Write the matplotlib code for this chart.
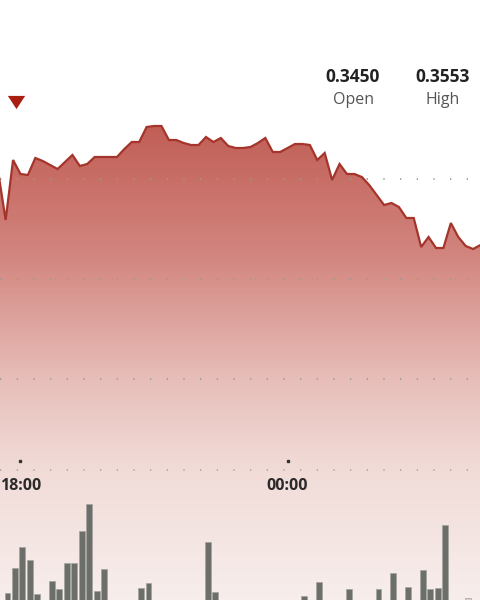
import matplotlib
matplotlib.use("Agg")
import matplotlib.pyplot as plt
import matplotlib.dates as mdates
import numpy as np
import pandas as pd
from matplotlib.colors import LinearSegmentedColormap
from matplotlib.path import Path

plt.rcParams["font.family"] = ["Open Sans", "DejaVu Sans"]

# price every 10 minutes, starting 17:30
times = pd.date_range("2024-03-04 17:30", periods=66, freq="10min")
prices = [0.3507, 0.3459, 0.3519, 0.3505, 0.3504, 0.3521, 0.3518, 0.3514, 0.3510, 0.3517,
          0.3524, 0.3513, 0.3515, 0.3522, 0.3522, 0.3522, 0.3522, 0.3530, 0.3537, 0.3537,
          0.3552, 0.3553, 0.3553, 0.3539, 0.3539, 0.3536, 0.3534, 0.3534, 0.3542, 0.3537,
          0.3541, 0.3533, 0.3531, 0.3531, 0.3532, 0.3536, 0.3541, 0.3527, 0.3527, 0.3531,
          0.3535, 0.3535, 0.3534, 0.3519, 0.3526, 0.3499, 0.3515, 0.3505, 0.3505, 0.3502,
          0.3494, 0.3484, 0.3474, 0.3476, 0.3472, 0.3461, 0.3461, 0.3432, 0.3442, 0.3431,
          0.3431, 0.3456, 0.3442, 0.3433, 0.3430, 0.3434]

# volume bars: slot in `times`, height
vol_slot = [1, 2, 3, 4, 5, 7, 8, 9, 10, 11, 12, 13, 14, 19, 20, 28, 29, 41, 43, 47,
            51, 53, 55, 57, 58, 59, 60, 63]
vol = [7, 32, 53, 40, 6, 19, 11, 37, 37, 69, 96, 9, 31, 12, 17, 58, 8, 4, 18, 11,
       11, 27, 13, 30, 11, 12, 75, 2]

grid_levels = [0.35, 0.34, 0.33]
tick_times = pd.to_datetime(["2024-03-04 18:00", "2024-03-05 00:00"])
tick_labels = ["18:00", "00:00"]
stats = [("0.3450", "Open"), ("0.3553", "High")]

fig = plt.figure(figsize=(4.8, 6), dpi=100)
ax = fig.add_axes([0, 0, 1, 1])
ax.set_axis_off()

t0 = pd.Timestamp("2024-03-04 18:00")
xlo = t0 - pd.Timedelta(minutes=27.6)
xhi = t0 + pd.Timedelta(minutes=619.3)
ylo, yhi = 0.3079, 0.3679
ax.set_xlim(xlo, xhi)
ax.set_ylim(ylo, yhi)

# gradient area under the line
cmap = LinearSegmentedColormap.from_list("fill", [
    (0.0, "#b9524a"), (0.2, "#c05d55"), (0.42, "#d2847e"),
    (0.63, "#e7bdb8"), (0.78, "#f1dbd7"), (1.0, "#f7eeec")])
grad = np.linspace(0, 1, 600).reshape(-1, 1)
im = ax.imshow(grad, extent=[mdates.date2num(xlo), mdates.date2num(xhi), ylo, yhi],
               aspect="auto", cmap=cmap, origin="upper", zorder=1)
poly = ax.fill_between(times, prices, ylo, facecolor="none", edgecolor="none")
im.set_clip_path(poly.get_paths()[0], transform=ax.transData)
ax.set_xlim(xlo, xhi)
ax.set_ylim(ylo, yhi)

ax.plot(times, prices, color="#a5342a", lw=1.6, zorder=4, solid_joinstyle="miter")

dots = (0, (0.8, 9.2))
for lvl in grid_levels:
    ax.axhline(lvl, color="#9a9a9a", lw=1.2, ls=dots, zorder=3)
ax.plot([0, 1], [0.2167, 0.2167], transform=ax.transAxes, color="#a8a8a8", lw=1.2,
        ls=dots, zorder=3)

trans = ax.get_xaxis_transform()
for t, lab in zip(tick_times, tick_labels):
    ax.plot([t], [0.2317], transform=trans, marker="s", ms=1.5, color="#333333",
            zorder=5)
    ax.text(t, 0.19, lab, transform=trans, ha="center", va="center",
            fontsize=11.5, fontweight="bold", color="#2a2a2a")

# down marker
tri = Path([(-1, 0.76), (1, 0.76), (0, -0.76), (-1, 0.76)],
           [Path.MOVETO, Path.LINETO, Path.LINETO, Path.CLOSEPOLY])
ax.plot([15.5 / 480], [1 - 101.5 / 600], transform=ax.transAxes, marker=tri, ms=12.5,
        color="#a81e10", mec="none", zorder=6)

for (val, name), cx in zip(stats, [353 / 480, 443 / 480]):
    fig.text(cx, 1 - 76.5 / 600, val, ha="center", va="center", fontsize=12.5,
             fontweight="bold", color="#222222")
    fig.text(cx, 1 - 100 / 600, name, ha="center", va="center", fontsize=11.5,
             color="#555555")

# volume
axv = fig.add_axes([0, 0, 1, 0.2])
axv.set_axis_off()
axv.patch.set_alpha(0)
axv.set_xlim(xlo, xhi)
axv.set_ylim(0, 120)
vt = times[vol_slot] - pd.Timedelta(minutes=1.5)
colors = ["#6c6e69"] * (len(vol) - 1) + ["#d8cfcc"]
axv.bar(vt, vol, width=8 / 1440, align="edge", color=colors, edgecolor="#a3a3a0",
        linewidth=0.5)

fig.savefig("out.png", dpi=100)
